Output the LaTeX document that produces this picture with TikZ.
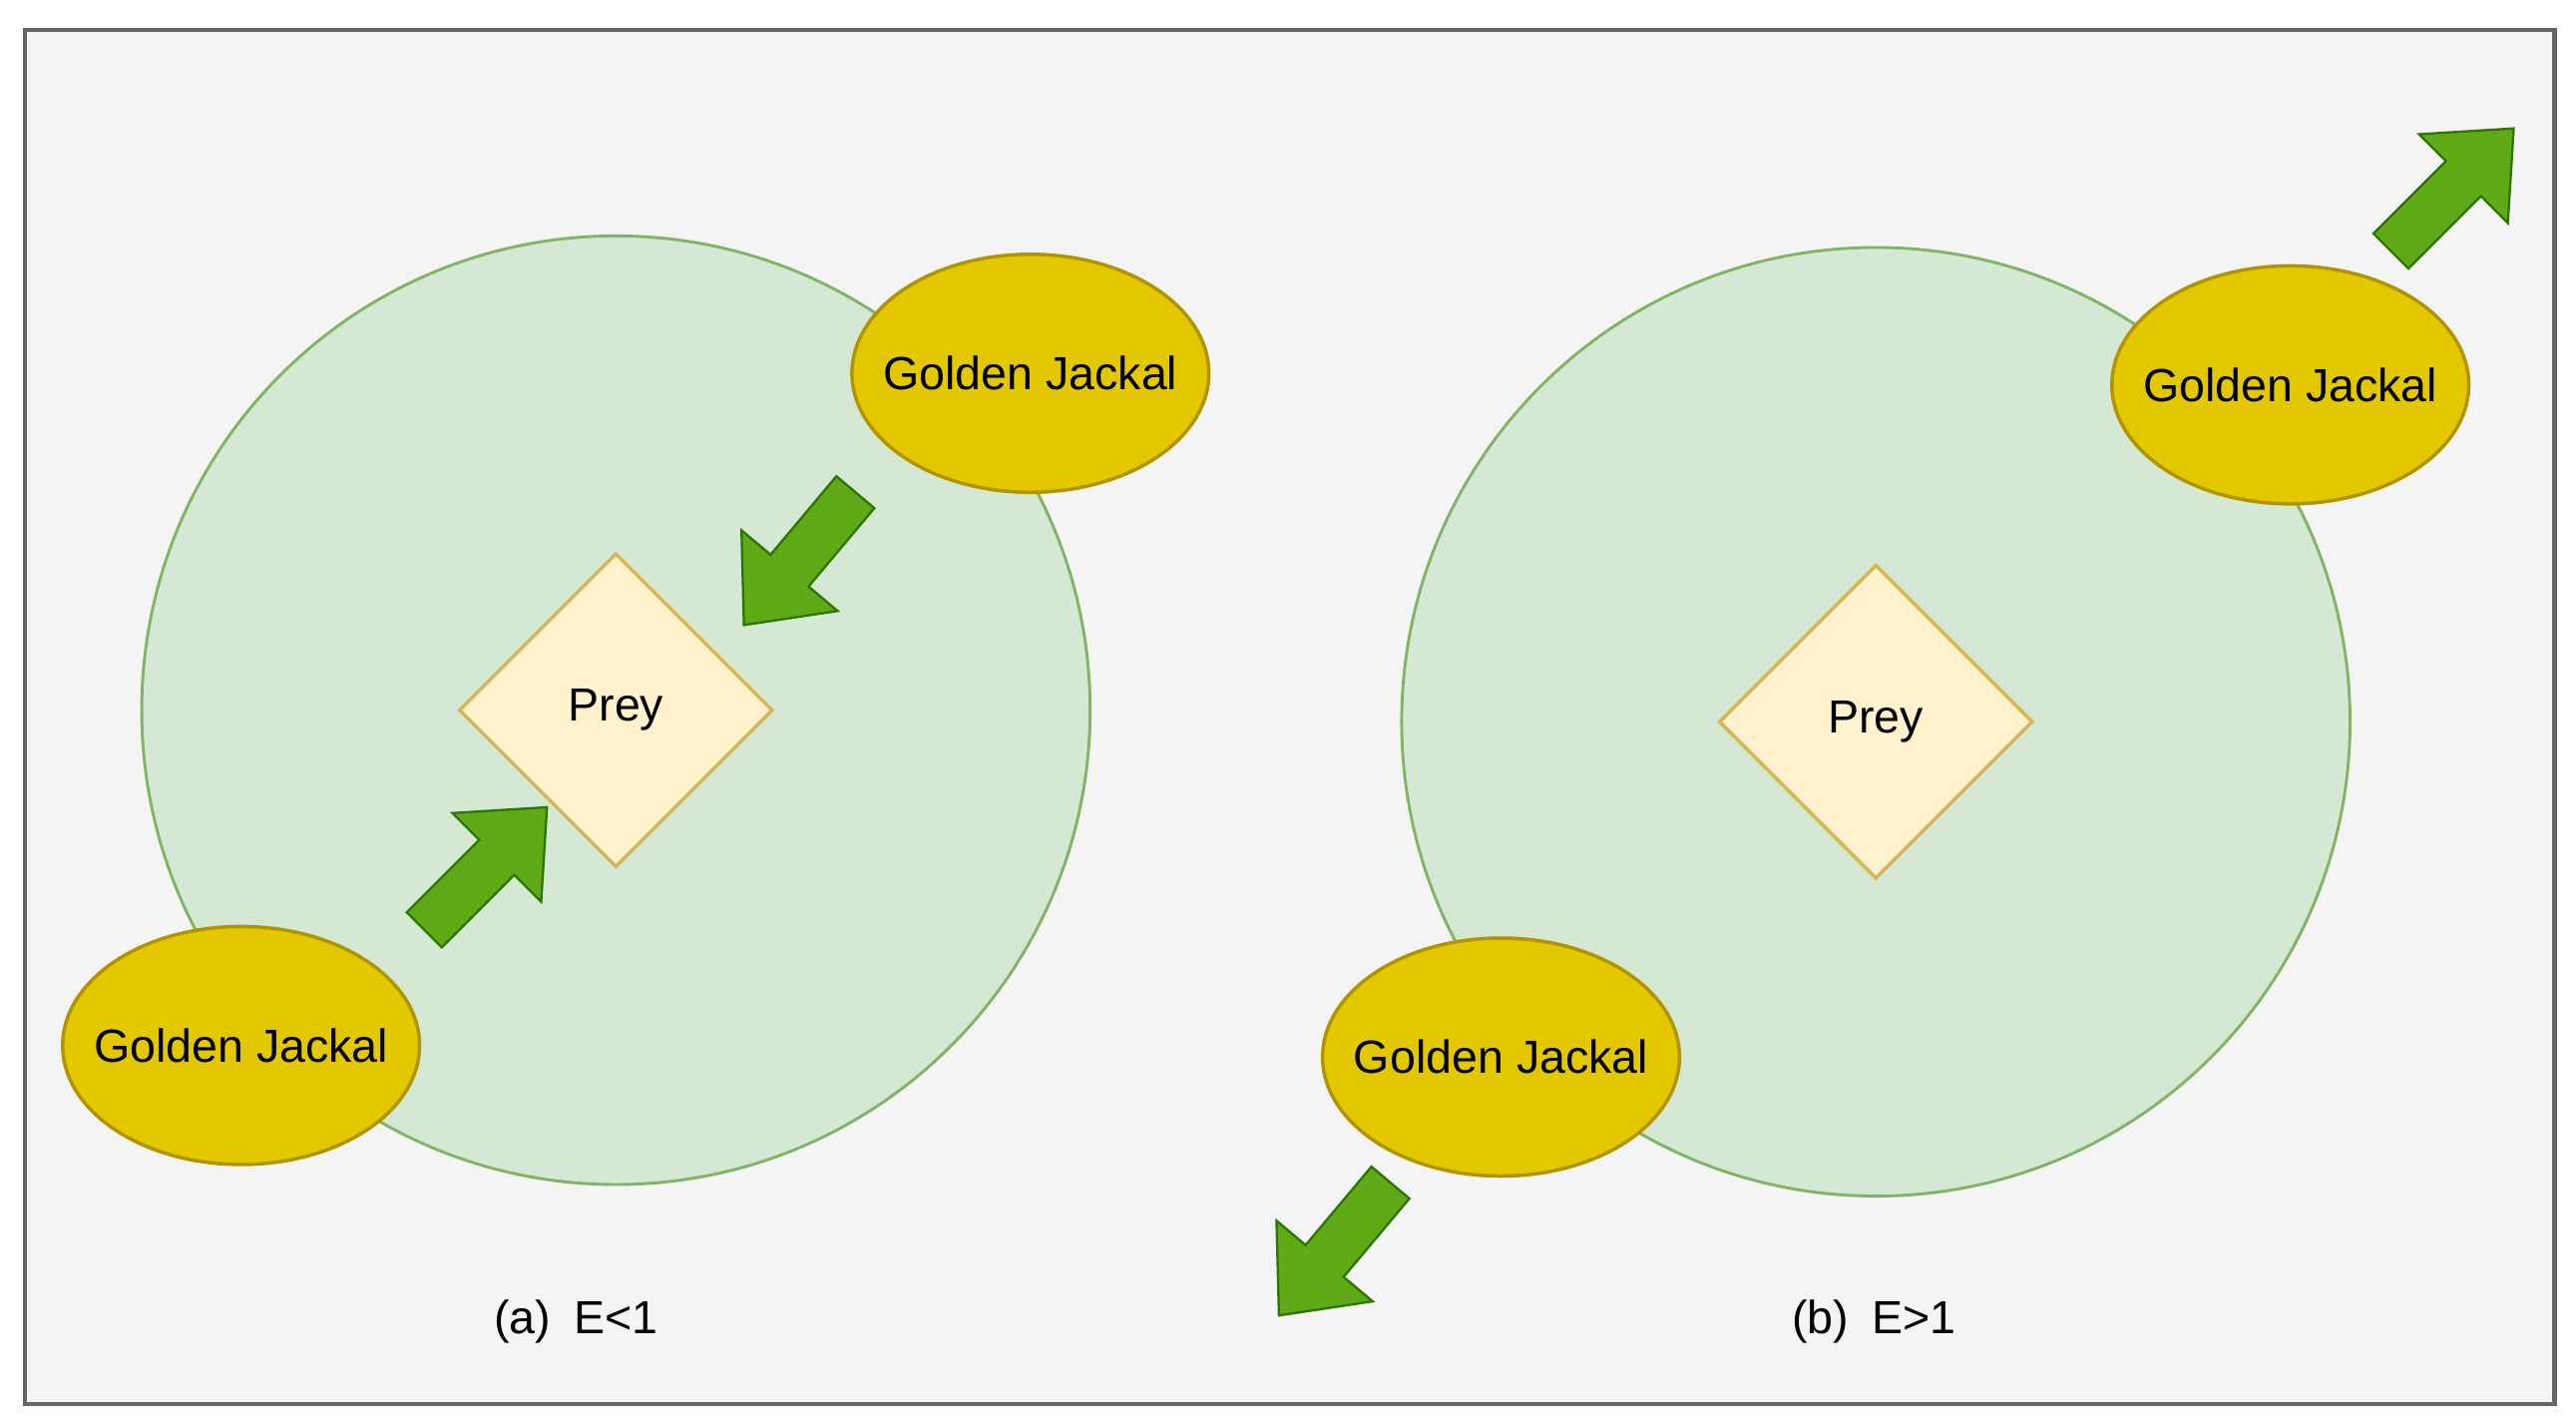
\documentclass[tikz,border=0pt]{standalone}
\usepackage{fontspec}
\setmainfont{Liberation Sans}
\usetikzlibrary{shapes.geometric}
\definecolor{bg}{HTML}{F4F4F4}
\definecolor{cfill}{HTML}{D5E8D4}
\definecolor{cline}{HTML}{82B366}
\definecolor{dfill}{HTML}{FFF2CC}
\definecolor{dline}{HTML}{D6B656}
\definecolor{jfill}{HTML}{E3C800}
\definecolor{jline}{HTML}{B09500}
\definecolor{afill}{HTML}{60A917}
\definecolor{aline}{HTML}{2D7600}
\tikzset{
 zone/.style={circle,fill=cfill,draw=cline,line width=0.5pt,minimum size=5.74cm,inner sep=0},
 prey/.style={diamond,fill=dfill,draw=dline,line width=0.6pt,minimum width=1.9cm,minimum height=1.9cm,inner sep=0,font=\fontsize{8}{10}\selectfont},
 jackal/.style={ellipse,fill=jfill,draw=jline,line width=0.6pt,minimum width=2.16cm,minimum height=1.44cm,inner sep=0,
   label={[font=\fontsize{8}{10}\selectfont]center:#1}},
 blk/.style={fill=afill,draw=aline,line width=0.4pt},
 lbl/.style={font=\fontsize{8}{10}\selectfont}
}
\newcommand{\blockarrow}[3]{%
 \begin{scope}[shift={(#1,#2)},rotate=#3]
 \draw[blk] (0,-15)--(62,-15)--(62,-38)--(105,0)--(62,38)--(62,15)--(0,15)--cycle;
 \end{scope}}
\begin{document}
\begin{tikzpicture}[x=0.01cm,y=-0.01cm]
\useasboundingbox (0,0) rectangle (1560,864);
\draw[fill=bg,draw=gray!80!black,line width=0.7pt] (15,18) rectangle (1547,850);
% (a)
\node[zone] (za) at (373,430) {};
\node[prey] (pa) at (373,430) {Prey};
\node[jackal=Golden Jackal] (ja1) at (624,226) {};
\node[jackal=Golden Jackal] (ja2) at (146,633) {};
\blockarrow{518}{298}{-130}
\blockarrow{257}{563}{45}
\node[lbl] (la) at (349,800) {(a)\enspace E<1};
% (b)
\node[zone] (zb) at (1136,437) {};
\node[prey] (pb) at (1136,437) {Prey};
\node[jackal=Golden Jackal] (jb1) at (1387,233) {};
\node[jackal=Golden Jackal] (jb2) at (909,640) {};
\blockarrow{1448}{152}{45}
\blockarrow{842}{716}{-130}
\node[lbl] (lb) at (1135,800) {(b)\enspace E>1};
\end{tikzpicture}
\end{document}
